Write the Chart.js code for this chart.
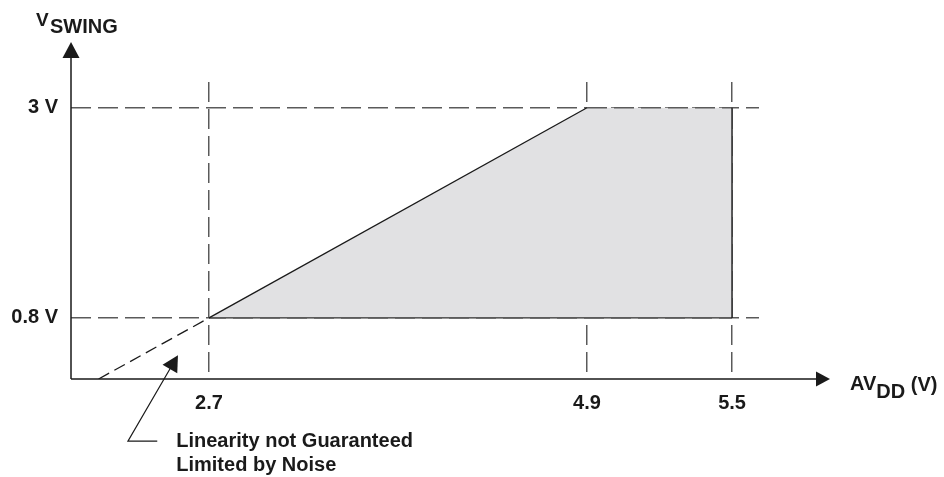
<!DOCTYPE html>
<html>
<head>
<meta charset="utf-8">
<script src="https://cdn.jsdelivr.net/npm/chart.js@4/dist/chart.umd.min.js"></script>
<style>
  html, body { margin: 0; padding: 0; background: #fff; }
  #wrap { width: 944px; height: 477px; }
</style>
</head>
<body>
<div id="wrap"><canvas id="swingChart" width="944" height="477"></canvas></div>
<script>
// tick marks on each axis
const xTickValues = [2.7, 4.9, 5.5];
const yTickValues = [0.8, 3];

// shaded operating region (top boundary, filled down to floorY)
const regionX = [2.7, 4.9, 5.5];
const regionY = [0.8, 3, 3];
const floorY = 0.8;

// dashed extension of the slope below 2.7 V
const extensionX = [2.06, 2.7];
const extensionY = [0.16, 0.8];

// callout
const noteLines = ["Linearity not Guaranteed", "Limited by Noise"];
const noteTip = { x: 2.52, y: 0.41 };
const noteElbow = { x: 2.23, y: -0.49 };
const noteTailX = 2.4;

const FONT = "Liberation Sans, Arial, Helvetica, sans-serif";
const INK = "#1a1a1a";
const GRID = "#5a5a5a";
const GRID_DASH = [20, 7];

// x axis in the figure is not to scale: piecewise linear between knots
class PiecewiseScale extends Chart.LinearScale {
  static id = "piecewise";
  static defaults = Chart.LinearScale.defaults;

  _seg(arr, v) {
    let i = 0;
    while (i < arr.length - 2 && v > arr[i + 1]) i++;
    return i;
  }
  getPixelForValue(value) {
    if (value === null || value === undefined) return NaN;
    const kv = this.options.knotValues, kf = this.options.knotFractions;
    const i = this._seg(kv, value);
    const f = kf[i] + (value - kv[i]) / (kv[i + 1] - kv[i]) * (kf[i + 1] - kf[i]);
    return this.getPixelForDecimal(f);
  }
  getValueForPixel(pixel) {
    const kv = this.options.knotValues, kf = this.options.knotFractions;
    const f = this.getDecimalForPixel(pixel);
    const i = this._seg(kf, f);
    return kv[i] + (f - kf[i]) / (kf[i + 1] - kf[i]) * (kv[i + 1] - kv[i]);
  }
}
Chart.register(PiecewiseScale);

function pts(xs, ys) {
  return xs.map((x, i) => ({ x: x, y: ys[i] }));
}

const last = regionX.length - 1;
const lineBase = { showLine: true, pointRadius: 0, fill: false, borderCapStyle: "butt" };

const datasets = [
  // slope
  Object.assign({}, lineBase, {
    data: pts(regionX.slice(0, 2), regionY.slice(0, 2)),
    borderColor: INK, borderWidth: 1.3
  }),
  // right edge
  Object.assign({}, lineBase, {
    data: [{ x: regionX[last], y: regionY[last] }, { x: regionX[last], y: floorY }],
    borderColor: INK, borderWidth: 1.4
  }),
  // bottom edge
  Object.assign({}, lineBase, {
    data: [{ x: regionX[0], y: floorY }, { x: regionX[last], y: floorY }],
    borderColor: "#2e2e2e", borderWidth: 1.4
  }),
  // top edge (grid dashes over the fill)
  Object.assign({}, lineBase, {
    data: pts(regionX.slice(1), regionY.slice(1)),
    borderColor: GRID, borderWidth: 1.5, borderDash: GRID_DASH
  }),
  // extension below 2.7
  Object.assign({}, lineBase, {
    data: pts(extensionX, extensionY),
    borderColor: INK, borderWidth: 1.3, borderDash: [12, 6]
  }),
  // filled region
  Object.assign({}, lineBase, {
    data: pts(regionX, regionY),
    borderWidth: 0,
    borderColor: "rgba(0,0,0,0)",
    backgroundColor: "#e1e1e3",
    fill: { value: floorY }
  })
];

function arrowHead(ctx, tx, ty, angle, len, half) {
  ctx.save();
  ctx.translate(tx, ty);
  ctx.rotate(angle);
  ctx.beginPath();
  ctx.moveTo(0, 0);
  ctx.lineTo(-len, -half);
  ctx.lineTo(-len, half);
  ctx.closePath();
  ctx.fill();
  ctx.restore();
}

const decorations = {
  id: "decorations",
  afterDraw(chart) {
    const { ctx, chartArea: a, scales } = chart;
    const xs = scales.x, ys = scales.y;
    ctx.save();
    ctx.strokeStyle = INK;
    ctx.fillStyle = INK;
    ctx.lineWidth = 1.5;

    // axes with arrowheads
    const yTip = a.top - 40, xTip = a.right + 71;
    ctx.beginPath();
    ctx.moveTo(a.left, a.bottom);
    ctx.lineTo(a.left, yTip + 12);
    ctx.moveTo(a.left, a.bottom);
    ctx.lineTo(xTip - 12, a.bottom);
    ctx.stroke();
    arrowHead(ctx, a.left, yTip, -Math.PI / 2, 16, 8.5);
    arrowHead(ctx, xTip, a.bottom, 0, 14, 7.5);

    // axis titles
    ctx.textBaseline = "alphabetic";
    ctx.textAlign = "left";
    ctx.font = "bold 19px " + FONT;
    ctx.fillText("V", 36, 26);
    ctx.font = "bold 20px " + FONT;
    ctx.fillText("SWING", 50, 33);

    let tx = xTip + 20;
    ctx.font = "bold 20px " + FONT;
    ctx.fillText("AV", tx, 390);
    tx += ctx.measureText("AV").width;
    ctx.fillText("DD", tx, 398);
    tx += ctx.measureText("DD ").width;
    ctx.fillText("(V)", tx, 391);

    // callout
    const tipX = xs.getPixelForValue(noteTip.x), tipY = ys.getPixelForValue(noteTip.y);
    const elX = xs.getPixelForValue(noteElbow.x), elY = ys.getPixelForValue(noteElbow.y);
    const tailX = xs.getPixelForValue(noteTailX);
    const ang = Math.atan2(tipY - elY, tipX - elX);
    ctx.lineWidth = 1.2;
    ctx.beginPath();
    ctx.moveTo(tailX, elY);
    ctx.lineTo(elX, elY);
    ctx.lineTo(tipX - Math.cos(ang) * 12, tipY - Math.sin(ang) * 12);
    ctx.stroke();
    arrowHead(ctx, tipX, tipY, ang, 16, 8.5);

    ctx.font = "bold 20px " + FONT;
    ctx.fillText(noteLines[0], tailX + 19, elY + 6);
    ctx.fillText(noteLines[1], tailX + 19, elY + 30);
    ctx.restore();
  }
};

new Chart(document.getElementById("swingChart"), {
  type: "scatter",
  data: { datasets: datasets },
  plugins: [decorations],
  options: {
    responsive: false,
    animation: false,
    events: [],
    layout: { padding: { left: 0, top: 82, right: 185, bottom: 0 } },
    plugins: {
      legend: { display: false },
      tooltip: { enabled: false },
      filler: { drawTime: "beforeDatasetsDraw" }
    },
    scales: {
      x: {
        type: "piecewise",
        min: 1.9,
        max: 5.61,
        knotValues: [1.9, 2.7, 4.9, 5.5, 5.61],
        knotFractions: [0, 0.2006, 0.75, 0.9608, 1],
        afterBuildTicks: (s) => { s.ticks = xTickValues.map((v) => ({ value: v })); },
        afterFit: (s) => { s.height = 98; },
        ticks: {
          autoSkip: false,
          maxRotation: 0,
          padding: 12,
          color: INK,
          font: { family: FONT, size: 20, weight: "bold" },
          callback: (v) => Number(v).toFixed(1)
        },
        grid: { color: GRID, lineWidth: 1.5, drawTicks: false },
        border: { display: false, dash: GRID_DASH }
      },
      y: {
        type: "linear",
        min: 0.16,
        max: 3.27,
        afterBuildTicks: (s) => { s.ticks = yTickValues.map((v) => ({ value: v })); },
        afterFit: (s) => { s.width = 71; },
        ticks: {
          autoSkip: false,
          padding: 13,
          color: INK,
          font: { family: FONT, size: 20, weight: "bold" },
          callback: (v) => v + " V"
        },
        grid: { color: GRID, lineWidth: 1.5, drawTicks: false },
        border: { display: false, dash: GRID_DASH }
      }
    }
  }
});
</script>
</body>
</html>
